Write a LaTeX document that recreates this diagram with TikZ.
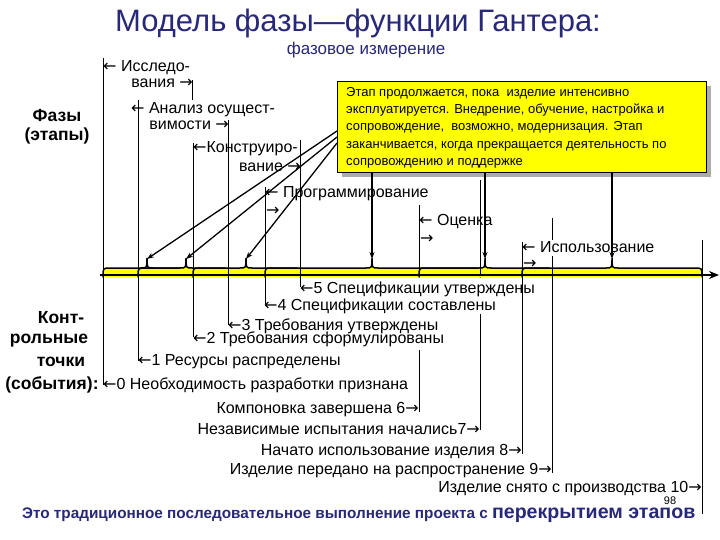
\documentclass[tikz,border=0pt]{standalone}
\usepackage{fontspec}
\setmainfont{Liberation Sans}
\newfontfamily\arrfont{DejaVu Sans}
\usetikzlibrary{arrows.meta}
\definecolor{navy}{RGB}{40,40,120}
\definecolor{boxyellow}{RGB}{255,255,0}
\newcommand{\la}{{\arrfont\fontsize{16}{16}\selectfont ←}}
\newcommand{\ra}{{\arrfont\fontsize{16}{16}\selectfont →}}
\newcommand{\phbrace}[3]{%
  \fill[boxyellow] (#1,277) .. controls (#1,268) .. (#1+7,268) -- (#3-6,268) .. controls (#3,268) .. (#3,258) .. controls (#3,268) .. (#3+6,268) -- (#2-7,268) .. controls (#2,268) .. (#2,277) -- cycle;
  \draw[bracestyle] (#1,277) .. controls (#1,268) .. (#1+7,268) -- (#3-6,268) .. controls (#3,268) .. (#3,258) .. controls (#3,268) .. (#3+6,268) -- (#2-7,268) .. controls (#2,268) .. (#2,277);
}
\begin{document}
\begin{tikzpicture}[x=1pt,y=-1pt,
  lbl/.style={inner sep=0pt, font=\fontsize{16}{18}\selectfont},
  vl/.style={line width=0.8pt},
  bracestyle/.style={line width=1.5pt, line cap=round},
  callout/.style={line width=1.3pt, -{Stealth[length=7pt,width=5pt]}},
  bold/.style={inner sep=0pt, font=\bfseries\fontsize{17.5}{20}\selectfont},
]
\useasboundingbox (0,0) rectangle (720,540);
\fill[white] (0,0) rectangle (720,540);

% title
\node[text=navy, inner sep=0pt, font=\fontsize{31}{33}\selectfont] (title) at (358,23) {Модель фазы—функции Гантера:};
\node[text=navy, inner sep=0pt, font=\fontsize{17}{19}\selectfont] (dim) at (366,50) {фазовое измерение};

% left labels
\node[bold] (ph1) at (57,116) {Фазы};
\node[bold] (ph2) at (57,136) {(этапы)};
\node[bold] (cp1) at (61,318) {Конт-};
\node[bold] (cp2) at (49,341) {рольные};
\node[bold] (cp3) at (61,362) {точки};
\node[bold] (cp4) at (52,385) {(события):};

% braces on the axis
\phbrace{103}{192}{147}
\phbrace{138}{228}{186}
\phbrace{193}{300}{246}
\phbrace{265}{480}{372}
\phbrace{419}{552}{485}
\phbrace{522}{702}{612}

% vertical phase / event lines
\draw[vl] (103,58) -- (103,385);
\draw[vl] (138,100) -- (138,361);
\draw[vl] (192,80) -- (192,100);
\draw[vl] (193,143) -- (193,337);
\draw[vl] (228,120) -- (228,325);
\draw[vl] (300,140) -- (300,287);
\draw[vl] (265,187) -- (265,304);
\draw[vl] (419,205) -- (419,275);
\draw[vl] (419,350) -- (419,412);
\draw[vl] (480,180) -- (480,275);
\draw[vl] (480,314) -- (480,430);
\draw[vl] (522,242) -- (522,454);
\draw[vl] (552,218) -- (552,240);
\draw[vl] (552,256) -- (552,473);
\draw[vl] (702,240) -- (702,514);

% axis
\coordinate (ax0) at (100,275);
\coordinate (ax1) at (719,275);
\draw[line width=2.6pt, -{Stealth[length=10pt,width=8pt]}] (ax0) -- (ax1);

% phase labels
\node[lbl, anchor=west] (l1a) at (103,68) {\la\ Исследо-};
\node[lbl, anchor=east] (l1b) at (193,83) {вания \ra};
\node[lbl, anchor=west] (l2a) at (131,110) {\la\ Анализ осущест-};
\node[lbl, anchor=east] (l2b) at (229,125) {вимости \ra};
\node[lbl, anchor=west] (l3a) at (193,149) {\la Конструиро-};
\node[lbl, anchor=east] (l3b) at (301,167) {вание \ra};
\node[lbl, anchor=west] (l4a) at (265,194) {\la\ Программирование};
\node[lbl, anchor=west] (l4b) at (266,211) {\ra};
\node[lbl, anchor=west] (l5a) at (419,222) {\la\ Оценка};
\node[lbl, anchor=west] (l5b) at (420,239) {\ra};
\node[lbl, anchor=west] (l6a) at (522,247) {\la\ Использование};
\node[lbl, anchor=west] (l6b) at (523,264) {\ra};

% yellow note
\fill[gray!65] (342,86) rectangle (711,177);
\node[draw, fill=boxyellow, line width=0.8pt, anchor=north west, minimum width=369pt, minimum height=91pt, inner sep=0pt] (box) at (337,81) {};
\node[anchor=north west, inner sep=0pt, align=left, font=\fontsize{13}{17.3}\selectfont] (boxtext) at (346,87) {Этап продолжается, пока~ изделие интенсивно\\эксплуатируется. Внедрение, обучение, настройка и\\сопровождение,~ возможно, модернизация. Этап\\заканчивается, когда прекращается деятельность по\\сопровождению и поддержке};

% callout arrows
\coordinate (s1) at (337,131);
\coordinate (s2) at (337,137);
\coordinate (s3) at (337,143);
\coordinate (t1) at (147,259);
\coordinate (t2) at (186,259);
\coordinate (t3) at (246,259);
\coordinate (t4) at (372,259);
\coordinate (t5) at (485,259);
\coordinate (t6) at (612,259);
\draw[callout] (s1) -- (t1);
\draw[callout] (s2) -- (t2);
\draw[callout] (s3) -- (t3);
\draw[callout] (box.south -| t4) -- (t4);
\draw[callout] (box.south -| t5) -- (t5);
\draw[callout] (box.south -| t6) -- (t6);

% control points
\node[lbl, anchor=west] (e5) at (300,289) {\la5 Спецификации утверждены};
\node[lbl, anchor=west] (e4) at (264,306) {\la4 Спецификации составлены};
\node[lbl, anchor=west] (e3) at (228,326) {\la3 Требования утверждены};
\node[lbl, anchor=west] (e2) at (193,339) {\la2 Требования сформулированы};
\node[lbl, anchor=west] (e1) at (138,362) {\la1 Ресурсы распределены};
\node[lbl, anchor=west] (e0) at (103,385) {\la0 Необходимость разработки признана};
\node[lbl, anchor=east] (e6) at (419,410) {Компоновка завершена 6\ra};
\node[lbl, anchor=east] (e7) at (480,429) {Независимые испытания начались7\ra};
\node[lbl, anchor=east] (e8) at (522,452) {Начато использование изделия 8\ra};
\node[lbl, anchor=east] (e9) at (552,471) {Изделие передано на распространение 9\ra};
\node[lbl, anchor=east] (e10) at (702,489) {Изделие снято с производства 10\ra};

\node[inner sep=0pt, font=\fontsize{11}{12}\selectfont] (pg) at (670,501) {98};
\node[anchor=base west, inner sep=0pt, text=navy, font=\bfseries\fontsize{15.3}{17}\selectfont] (bottom) at (22,518) {Это традиционное последовательное выполнение проекта с {\fontsize{19.6}{20}\selectfont перекрытием этапов}};
\end{tikzpicture}
\end{document}
